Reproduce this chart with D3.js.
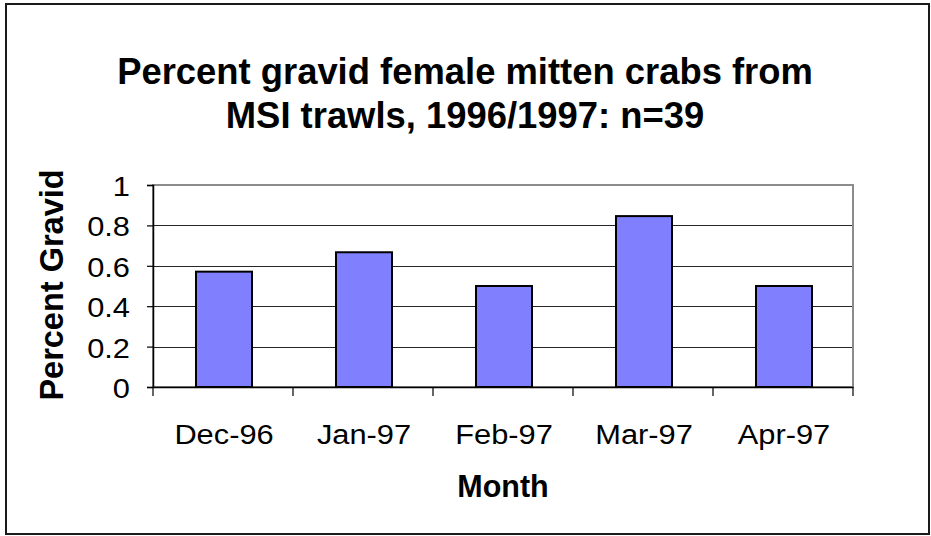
<!DOCTYPE html>
<html><head><meta charset="utf-8">
<script src="https://cdn.jsdelivr.net/npm/d3@7/dist/d3.min.js"></script>
<style>html,body{margin:0;padding:0;background:#fff}svg{display:block}text{font-family:"Liberation Sans",Arial,sans-serif}</style>
</head><body><div id="chart"></div>
<script>
const months = ["Dec-96","Jan-97","Feb-97","Mar-97","Apr-97"];
const percentGravid = [0.571, 0.667, 0.5, 0.846, 0.5];
const yTicks = [0, 0.2, 0.4, 0.6, 0.8, 1];
const titleLines = ["Percent gravid female mitten crabs from","MSI trawls, 1996/1997: n=39"];
const yTitle = "Percent Gravid";
const xTitle = "Month";

const W = 931, H = 536;
const plot = {l:153, r:853, t:185, b:387};
const svg = d3.select("#chart").append("svg").attr("width",W).attr("height",H);

svg.append("rect").attr("x",6).attr("y",4).attr("width",923).attr("height",530)
  .attr("fill","#fff").attr("stroke","#1a1a1a").attr("stroke-width",2);

const x = d3.scaleBand().domain(months).range([plot.l, plot.r]).paddingInner(0.6).paddingOuter(0.3);
const xb = d3.scaleBand().domain(months).range([plot.l, plot.r]);
const y = d3.scaleLinear().domain([0,1]).range([plot.b, plot.t]);

function stext(g, txt, px, py, size, weight, anchor, sx, rot){
  return g.append("text").text(txt)
    .attr("transform", `translate(${px},${py}) scale(${sx},1)` + (rot?` rotate(${rot})`:""))
    .attr("font-size", size).attr("font-weight", weight).attr("text-anchor", anchor).attr("fill","#000");
}

// gridlines
svg.append("g").selectAll("line").data(yTicks.filter(d=>d>0 && d<1)).join("line")
  .attr("x1",plot.l).attr("x2",plot.r).attr("y1",d=>Math.round(y(d))+0.5).attr("y2",d=>Math.round(y(d))+0.5)
  .attr("stroke","#262626").attr("stroke-width",1);

// plot border
svg.append("rect").attr("x",plot.l).attr("y",plot.t).attr("width",plot.r-plot.l).attr("height",plot.b-plot.t)
  .attr("fill","none").attr("stroke","#8c8c8c").attr("stroke-width",2);

// bars
svg.append("g").selectAll("rect").data(months).join("rect")
  .attr("x",d=>x(d)+1).attr("width",x.bandwidth())
  .attr("y",(d,i)=>y(percentGravid[i])).attr("height",(d,i)=>y(0)-y(percentGravid[i]))
  .attr("fill","#8080ff").attr("stroke","#000").attr("stroke-width",2);

// y axis
const yAxis = svg.append("g").attr("transform",`translate(${plot.l},0)`)
  .call(d3.axisLeft(y).tickValues(yTicks).tickSize(6).tickFormat(d3.format("")));
yAxis.select(".domain").attr("stroke","#000").attr("stroke-width",1.5);
yAxis.selectAll(".tick line").attr("stroke","#000").attr("stroke-width",1.2);
yAxis.selectAll(".tick text").remove();
const yl = svg.append("g");
yTicks.forEach(t=>stext(yl, d3.format("")(t), 130, y(t)+11, 28, "normal", "end", 1.1));

// x axis
const xAxis = svg.append("g").attr("transform",`translate(0,${plot.b})`)
  .call(d3.axisBottom(xb).tickSize(0).tickFormat(""));
xAxis.select(".domain").attr("stroke","#000").attr("stroke-width",1.5);
svg.append("g").selectAll("line").data(months.map(m=>xb(m)).concat([plot.r])).join("line")
  .attr("x1",d=>d).attr("x2",d=>d).attr("y1",plot.b).attr("y2",plot.b+9)
  .attr("stroke","#000").attr("stroke-width",1.2);
const xl = svg.append("g");
months.forEach(m=>stext(xl, m, xb(m)+xb.bandwidth()/2+1, 444, 28, "normal", "middle", 1.1));

// titles
const tg = svg.append("g");
stext(tg, titleLines[0], 465, 84, 36.4, "bold", "middle", 1);
stext(tg, titleLines[1], 465, 128, 36.4, "bold", "middle", 1);
stext(tg, xTitle, 503, 497, 30.5, "bold", "middle", 1);
stext(tg, yTitle, 63, 285, 32.5, "bold", "middle", 1, -90);
</script></body></html>
